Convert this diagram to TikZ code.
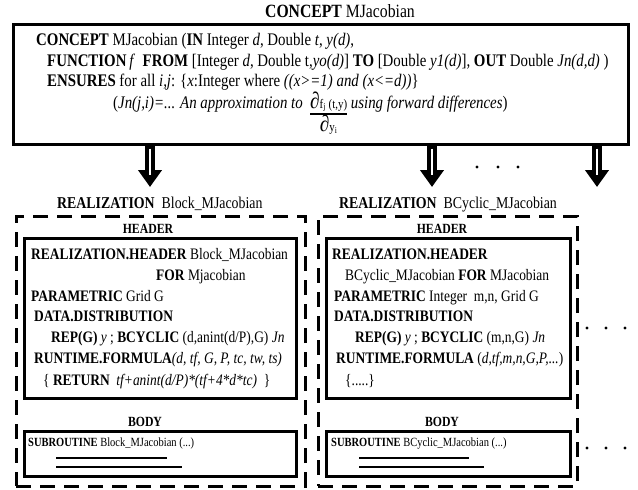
\documentclass[tikz,border=0pt]{standalone}
\usepackage{fontspec}
\setmainfont{Liberation Serif}[FakeStretch=0.84]
\usetikzlibrary{arrows.meta,positioning,calc}
\setlength{\arrayrulewidth}{1.8pt}
\newcommand{\pdiff}{\scalebox{1.3}{\textbf{∂}}}

\begin{document}
\begin{tikzpicture}[x=1pt,y=-1pt,
  every node/.style={font=\fontsize{16}{19}\selectfont},
  line/.style={anchor=base west,inner sep=0pt},
  cline/.style={anchor=base west,inner sep=0pt,font=\fontsize{17.7}{20}\selectfont},
  tag/.style={anchor=base,inner sep=0pt,font=\fontsize{14}{17}\selectfont\bfseries},
  subline/.style={anchor=base west,inner sep=0pt,font=\fontsize{12.5}{14}\selectfont},
  solidbox/.style={draw,line width=3pt,inner sep=0pt},
  dashbox/.style={draw,line width=3pt,dash pattern=on 15pt off 9pt,inner sep=0pt},
  refine/.style={line width=10.5pt,-{Triangle[length=17pt,width=23pt]}}]
\useasboundingbox (0,0) rectangle (638,490);

% concept
\node[anchor=base,inner sep=0pt,font=\fontsize{18.7}{21}\selectfont] (ctitle) at (340,17) {\textbf{CONCEPT} MJacobian};
\node[solidbox,minimum width=615pt,minimum height=120pt] (concept) at (320.5,84) {};
\node[cline] (c1) at (36,45) {\textbf{CONCEPT} MJacobian (\textbf{IN} Integer \textit{d}, Double \textit{t}, \textit{y(d)},};
\node[cline] (c2) at (47,66) {\textbf{FUNCTION}\,\textit{f}\ \ \textbf{FROM} [Integer \textit{d}, Double t,\textit{yo(d)}] \textbf{TO} [Double \textit{y1(d)}], \textbf{OUT} Double \textit{Jn(d,d)} )};
\node[cline] (c3) at (47,86) {\textbf{ENSURES} for all \textit{i,j}: \{\textit{x}:Integer where \textit{((x>=1) and (x<=d))}\}};
\node[cline] (c4) at (113,108) {(\textit{Jn(j,i)=... An approximation to}\ \ \begin{tabular}[t]{@{}c@{}}\pdiff{\fontsize{13}{14}\selectfont f\textsubscript{j} (t,y)}\\[-1pt]\hline\rule{0pt}{15pt}\pdiff{\fontsize{13}{14}\selectfont y\textsubscript{i}}\end{tabular} \textit{using forward differences})};

% refinement arrows
\coordinate (a1) at (150,187);
\coordinate (a2) at (432,187);
\coordinate (a3) at (597,187);
\foreach \p in {a1,a2,a3} {
  \draw[refine] (concept.south -| \p) -- (\p);
  \draw[white,line width=2.5pt] ($(concept.south -| \p)+(0,3)$) -- ($(\p)+(0,-12)$);
}
\foreach \x in {477,498,518}
  \fill (\x,167) circle (1.6pt);

% realization Block_MJacobian
\node[line,font=\fontsize{16.5}{19}\selectfont] (r1) at (57,208) {\textbf{REALIZATION}\ \ Block\_MJacobian};
\node[dashbox,minimum width=289pt,minimum height=270pt] (real1) at (160.5,351) {};
\node[tag] (head1) at (148,233) {HEADER};
\node[solidbox,minimum width=272pt,minimum height=160pt] (hbox1) at (160,318) {};
\node[line] (h1) at (31,259) {\textbf{REALIZATION.HEADER} Block\_MJacobian};
\node[line] (h2) at (156,280) {\textbf{FOR} Mjacobian};
\node[line] (h3) at (31,301) {\textbf{PARAMETRIC} Grid G};
\node[line] (h4) at (34,321) {\textbf{DATA.DISTRIBUTION}};
\node[line] (h5) at (51,342) {\textbf{REP(G)} \textit{y} ; \textbf{BCYCLIC} (d,anint(d/P),G) \textit{Jn}};
\node[line] (h6) at (34,363) {\textbf{RUNTIME.FORMULA}\textit{(d, tf, G, P, tc, tw, ts)}};
\node[line] (h7) at (43,385) {\{ \textbf{RETURN}\ \ \textit{tf+anint(d/P)*(tf+4*d*tc)}\ \ \}};
\node[tag] (body1) at (145,426) {BODY};
\node[solidbox,minimum width=272pt,minimum height=45pt] (bbox1) at (160,453.5) {};
\node[subline] (s1) at (28,446) {\textbf{SUBROUTINE} Block\_MJacobian (...)};
\draw[line width=1.2pt] (56,458) -- (167,458);
\draw[line width=1.2pt] (56,467) -- (182,467);

% realization BCyclic_MJacobian
\node[line,font=\fontsize{16.5}{19}\selectfont] (r2) at (339,208) {\textbf{REALIZATION}\ \ BCyclic\_MJacobian};
\node[dashbox,minimum width=259pt,minimum height=270pt] (real2) at (447.5,351) {};
\node[tag] (head2) at (442,233) {HEADER};
\node[solidbox,minimum width=244pt,minimum height=160pt] (hbox2) at (448,318) {};
\node[line] (g1) at (332,259) {\textbf{REALIZATION.HEADER}};
\node[line] (g2) at (345,280) {BCyclic\_MJacobian \textbf{FOR} MJacobian};
\node[line] (g3) at (334,301) {\textbf{PARAMETRIC} Integer\ \ m,n, Grid G};
\node[line] (g4) at (334,321) {\textbf{DATA.DISTRIBUTION}};
\node[line] (g5) at (355,342) {\textbf{REP(G)} \textit{y} ; \textbf{BCYCLIC} (m,n,G) \textit{Jn}};
\node[line] (g6) at (336,363) {\textbf{RUNTIME.FORMULA} (\textit{d,tf,m,n,G,P,...})};
\node[line] (g7) at (345,385) {\{.....\}};
\node[tag] (body2) at (442,426) {BODY};
\node[solidbox,minimum width=244pt,minimum height=45pt] (bbox2) at (448,453.5) {};
\node[subline] (s2) at (331,446) {\textbf{SUBROUTINE} BCyclic\_MJacobian (...)};
\draw[line width=1.2pt] (359,458) -- (469,458);
\draw[line width=1.2pt] (359,467) -- (484,467);
\foreach \x in {587,606,625} {
  \fill (\x,328) circle (1.6pt);
  \fill (\x,448) circle (1.6pt);
}
\end{tikzpicture}
\end{document}
